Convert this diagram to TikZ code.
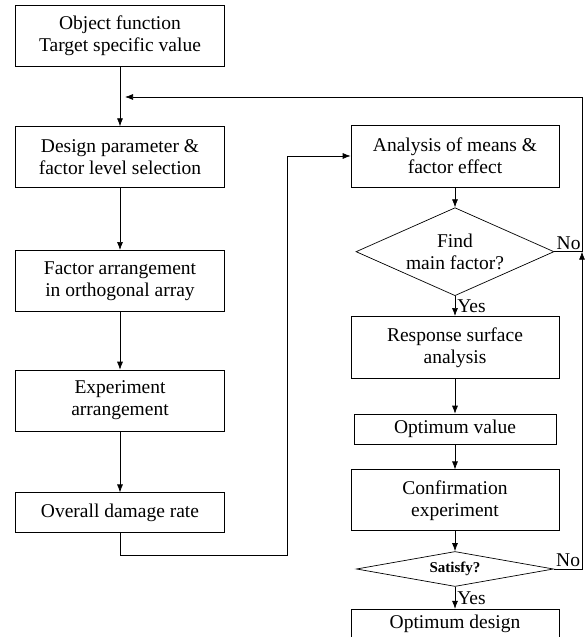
\documentclass[tikz,border=0pt]{standalone}
\usepackage{fontspec}
\setmainfont{Liberation Serif}
\usepackage{tikz}
\usetikzlibrary{arrows.meta,shapes,positioning,calc}

\begin{document}
\begin{tikzpicture}[
    x=1pt, y=1pt,
    node distance=60pt,
    box/.style={rectangle, draw, line width=0.7pt, minimum width=209pt, minimum height=61pt, align=center, inner sep=2pt, font=\fontsize{19.5}{22}\selectfont},
    flatbox/.style={box, minimum height=30pt},
    decision/.style={diamond, draw, line width=0.7pt, inner sep=0pt, align=center, font=\fontsize{19.5}{22}\selectfont},
    tag/.style={font=\fontsize{19.5}{22}\selectfont, inner sep=2pt},
    flow/.style={line width=0.7pt, -{Latex[length=8pt,width=6pt]}}
]
    \useasboundingbox (0,0) rectangle (584,637);

    % left column
    \node[box] (obj) at (120,601.5) {Object function\\Target specific value};
    \node[box, below=60pt of obj] (design) {Design parameter \&\\factor level selection};
    \node[box, below=62pt of design] (factor) {Factor arrangement\\in orthogonal array};
    \node[box, below=58pt of factor] (exper) {Experiment\\arrangement};
    \node[box, minimum height=40pt, below=61pt of exper] (overall) {Overall damage rate};

    % right column
    \node[box, minimum width=208pt, minimum height=62pt] (analysis) at (455,481) {Analysis of means \&\\factor effect};
    \node[decision, aspect=2.25, minimum width=198pt, minimum height=88pt, below=20pt of analysis] (find) {Find\\main factor?};
    \node[box, minimum width=208pt, minimum height=62pt, below=20pt of find] (resp) {Response surface\\analysis};
    \node[flatbox, minimum width=202pt, below=35pt of resp] (optval) {Optimum value};
    \node[box, minimum width=208pt, below=25pt of optval] (confirm) {Confirmation\\experiment};
    \node[decision, aspect=5.6, minimum width=197pt, minimum height=35pt, font=\fontsize{15}{17}\selectfont\bfseries, below=20pt of confirm] (satisfy) {Satisfy?};
    \node[flatbox, minimum width=208pt, below=22pt of satisfy] (optdes) {Optimum design};

    % loop points
    \coordinate (back) at (287,82);
    \coordinate (top) at (582,540);
    \coordinate (entry) at (125,540);

    \draw[flow] (obj) -- (design);
    \draw[flow] (design) -- (factor);
    \draw[flow] (factor) -- (exper);
    \draw[flow] (exper) -- (overall);
    \draw[flow] (overall.south) |- (back) |- (analysis.west);

    \draw[flow] (analysis) -- (find);
    \draw[flow] (find) -- node[tag, right]{Yes} (resp);
    \draw[flow] (resp) -- (optval);
    \draw[flow] (optval) -- (confirm);
    \draw[flow] (confirm) -- (satisfy);
    \draw[flow] (satisfy) -- node[tag, right]{Yes} (optdes);

    \draw[flow] (satisfy.east) node[tag, above right]{No} -| (find.east -| top);
    \draw[flow] (find.east) node[tag, above right]{No} -| (top) -- (entry);
\end{tikzpicture}
\end{document}
